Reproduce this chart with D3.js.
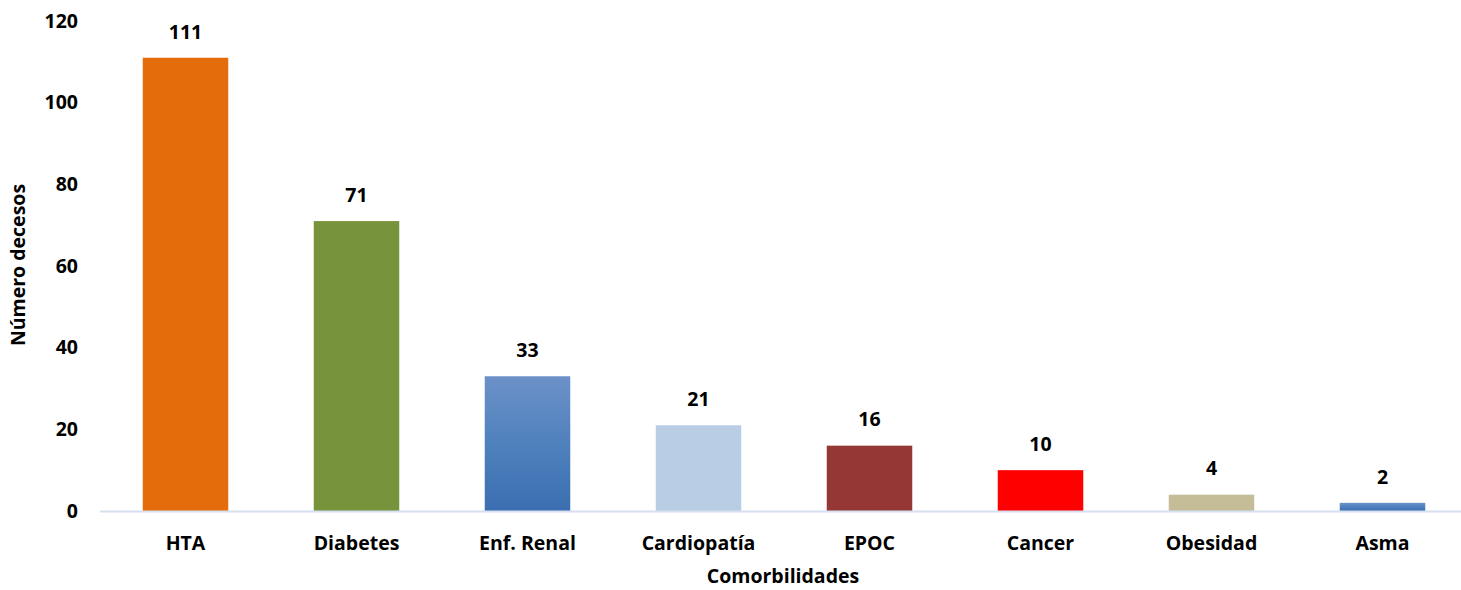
<!DOCTYPE html>
<html>
<head>
<meta charset="utf-8">
<script src="https://cdn.jsdelivr.net/npm/d3@7"></script>
<style>
  body { margin: 0; background: #fff; }
  text { font-family: "Open Sans", "Liberation Sans", sans-serif; font-weight: bold; fill: #000; }
</style>
</head>
<body>
<div id="chart"></div>
<script>
const categories = ["HTA", "Diabetes", "Enf. Renal", "Cardiopatía", "EPOC", "Cancer", "Obesidad", "Asma"]
const values = [111, 71, 33, 21, 16, 10, 4, 2]
const colors = ["#e46c0a", "#77933c", "url(#gradBlue)", "#b9cde5", "#953735", "#ff0000", "#c4bd97", "url(#gradBlue)"]
const yTicks = [0, 20, 40, 60, 80, 100, 120]

const W = 1461, H = 590
const margin = {left: 100, right: -7, top: 21, bottom: 79}
const fs = 19.5

const svg = d3.select("#chart").append("svg")
    .attr("width", W)
    .attr("height", H)

const grad = svg.append("defs").append("linearGradient")
    .attr("id", "gradBlue")
    .attr("x1", 0).attr("y1", 0).attr("x2", 0).attr("y2", 1)
grad.append("stop").attr("offset", "0%").attr("stop-color", "#6d91c8")
grad.append("stop").attr("offset", "50%").attr("stop-color", "#4f81bd")
grad.append("stop").attr("offset", "100%").attr("stop-color", "#3a6eb0")

const x = d3.scaleBand()
    .domain(categories)
    .range([margin.left, W - margin.right])
    .paddingInner(0.5)
    .paddingOuter(0.25)

const y = d3.scaleLinear()
    .domain([0, 120])
    .range([H - margin.bottom, margin.top])

// y tick labels (no axis line)
svg.append("g")
    .selectAll("text")
    .data(yTicks)
    .enter()
    .append("text")
        .attr("x", 78)
        .attr("y", d => y(d))
        .attr("dy", "0.35em")
        .attr("text-anchor", "end")
        .attr("font-size", fs)
        .text(d => d)

// bars
svg.append("g")
    .selectAll("rect")
    .data(values)
    .enter()
    .append("rect")
        .attr("x", (d, i) => x(categories[i]))
        .attr("y", d => y(d))
        .attr("width", x.bandwidth())
        .attr("height", d => y(0) - y(d))
        .attr("fill", (d, i) => colors[i])

// baseline
svg.append("line")
    .attr("x1", margin.left)
    .attr("x2", W)
    .attr("y1", y(0) + 0.5)
    .attr("y2", y(0) + 0.5)
    .attr("stroke", "#d6e0ef")
    .attr("stroke-width", 2)

// value labels
svg.append("g")
    .selectAll("text")
    .data(values)
    .enter()
    .append("text")
        .attr("x", (d, i) => x(categories[i]) + x.bandwidth() / 2)
        .attr("y", d => y(d) - 26)
        .attr("dy", "0.35em")
        .attr("text-anchor", "middle")
        .attr("font-size", fs)
        .text(d => d)

// category labels
svg.append("g")
    .selectAll("text")
    .data(categories)
    .enter()
    .append("text")
        .attr("x", d => x(d) + x.bandwidth() / 2)
        .attr("y", 543)
        .attr("dy", "0.35em")
        .attr("text-anchor", "middle")
        .attr("font-size", fs)
        .text(d => d)

// axis titles
svg.append("text")
    .attr("x", 783)
    .attr("y", 576)
    .attr("dy", "0.35em")
    .attr("text-anchor", "middle")
    .attr("font-size", fs)
    .text("Comorbilidades")

svg.append("text")
    .attr("transform", "translate(18,265) rotate(-90)")
    .attr("dy", "0.35em")
    .attr("text-anchor", "middle")
    .attr("font-size", fs)
    .text("Número decesos")
</script>
</body>
</html>
